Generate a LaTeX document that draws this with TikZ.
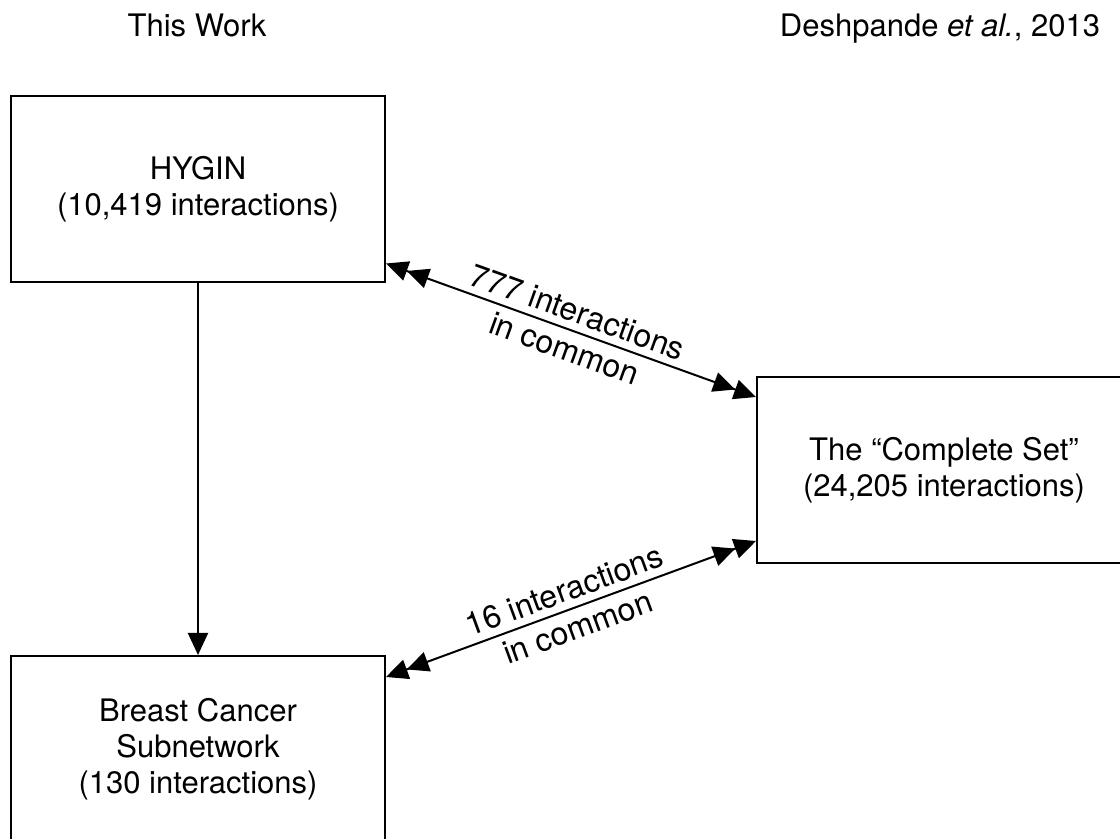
\documentclass[tikz,border=0pt]{standalone}
\usepackage{fontspec}
\setmainfont{TeX Gyre Heros}
\usetikzlibrary{arrows.meta,calc}

\tikzset{
  tri/.tip={Triangle[length=11pt,width=10pt]},
  dbl/.tip={Triangle[length=11pt,width=10pt] Triangle[length=11pt,width=10pt]},
  netbox/.style={draw, line width=1pt, minimum width=187pt, minimum height=93pt,
    align=center, font=\fontsize{15.5}{18}\selectfont},
  heading/.style={anchor=base, font=\fontsize{15.5}{18}\selectfont},
  link/.style={line width=1pt},
  common/.style={midway, sloped, align=center, font=\fontsize{16}{19.5}\selectfont}
}

\begin{document}
\begin{tikzpicture}[x=0.5pt, y=-0.5pt]
\useasboundingbox (0, 0) rectangle (1120, 839);
\clip (0, 0) rectangle (1120, 839);

\node[heading] (thiswork) at (197, 37) {This Work};
\node[heading] (deshpande) at (940, 37) {Deshpande \textit{et al.}, 2013};

\node[netbox] (hygin) at (198, 189.5) {HYGIN\\(10,419 interactions)};
\node[netbox] (complete) at (944, 470) {The “Complete Set”\\(24,205 interactions)};
\node[netbox] (breast) at (198, 749) {Breast Cancer\\Subnetwork\\(130 interactions)};

\draw[link, -tri] (hygin.south) -- (breast.north);

\draw[link, dbl-dbl] ($(hygin.south east)+(0,-20)$) -- ($(complete.north west)+(0,21)$)
  node[common] {777 interactions\\in common};
\draw[link, dbl-dbl] ($(breast.north east)+(0,22)$) -- ($(complete.south west)+(0,-23)$)
  node[common] {16 interactions\\in common};
\end{tikzpicture}
\end{document}
